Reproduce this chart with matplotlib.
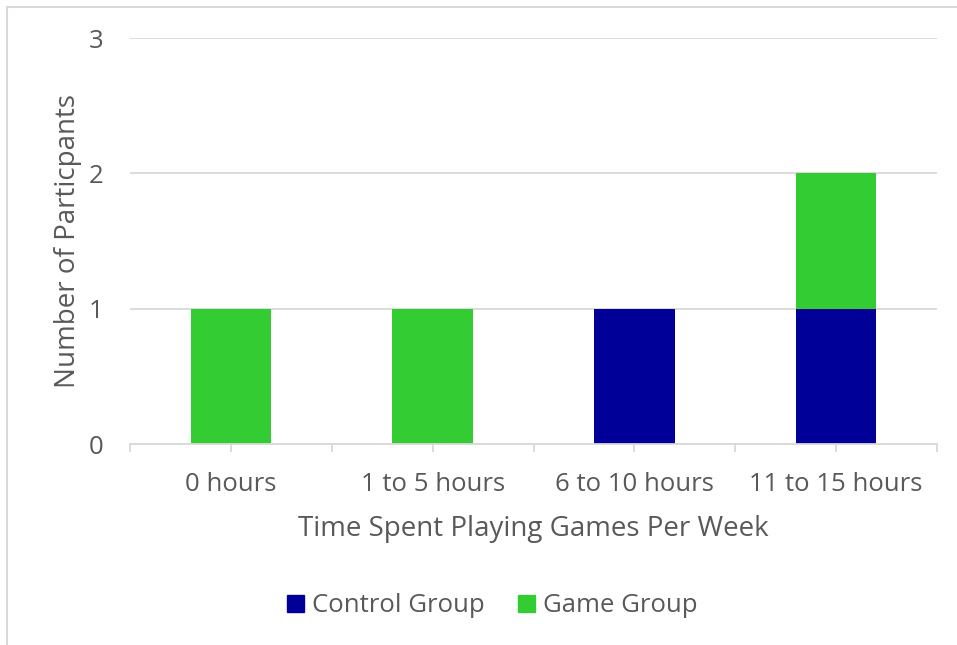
import numpy as np
import matplotlib
matplotlib.use('Agg')
import matplotlib.pyplot as plt
from matplotlib.patches import Patch
from matplotlib.lines import Line2D

categories = ['0 hours', '1 to 5 hours', '6 to 10 hours', '11 to 15 hours']
control = [0, 0, 1, 1]
game = [1, 1, 0, 1]

plt.rcParams['font.family'] = ['Open Sans', 'DejaVu Sans']
txt = '#595959'
grid_c = '#d9d9d9'

fig = plt.figure(figsize=(9.57, 6.45), dpi=100)
ax = fig.add_axes([130/957, 1-444/645, (937-130)/957, (444-38)/645])

x = np.arange(len(categories))
ax.bar(x, control, width=0.4, color='#000099', label='Control Group')
ax.bar(x, game, width=0.4, bottom=control, color='#33cc33', label='Game Group')

ax.set_xlim(-0.5, len(categories)-0.5)
ax.set_ylim(0, 3)
ax.set_yticks([0, 1, 2, 3])
ax.grid(axis='y', color=grid_c, lw=1.3)
ax.set_axisbelow(True)
for s in ['top', 'right', 'left']:
    ax.spines[s].set_visible(False)
ax.spines['bottom'].set_color(grid_c)
ax.spines['bottom'].set_linewidth(1.3)

ax.set_xticks(x)
ax.set_xticklabels(categories)
ax.set_xticks(np.arange(-0.5, len(categories), 1.0), minor=True)
ax.tick_params(axis='x', which='both', length=6, color=grid_c, width=1.3, labelsize=18.5, pad=14)
ax.tick_params(axis='x', which='major', labelcolor=txt)
ax.tick_params(axis='y', length=0, labelsize=18.5, labelcolor=txt, pad=19)

ax.set_xlabel('Time Spent Playing Games Per Week', fontsize=20, color=txt, labelpad=13)
ax.set_ylabel('Number of Particpants', fontsize=20, color=txt, labelpad=5)

handles = [Patch(color='#000099'), Patch(color='#33cc33')]
fig.legend(handles, ['Control Group', 'Game Group'], loc='center', bbox_to_anchor=(492/957, 1-606/645),
           ncol=2, frameon=False, fontsize=18.5, labelcolor=txt, handlelength=0.68, handleheight=0.68,
           handletextpad=0.3, columnspacing=1.3)

# figure border (only top and left visible)
fig.add_artist(Line2D([6.5/957, 6.5/957], [0, 1-6.5/645], transform=fig.transFigure, color=grid_c, lw=1.5))
fig.add_artist(Line2D([6.5/957, 1], [1-6.5/645, 1-6.5/645], transform=fig.transFigure, color=grid_c, lw=1.5))

fig.savefig('out.png', dpi=100)
